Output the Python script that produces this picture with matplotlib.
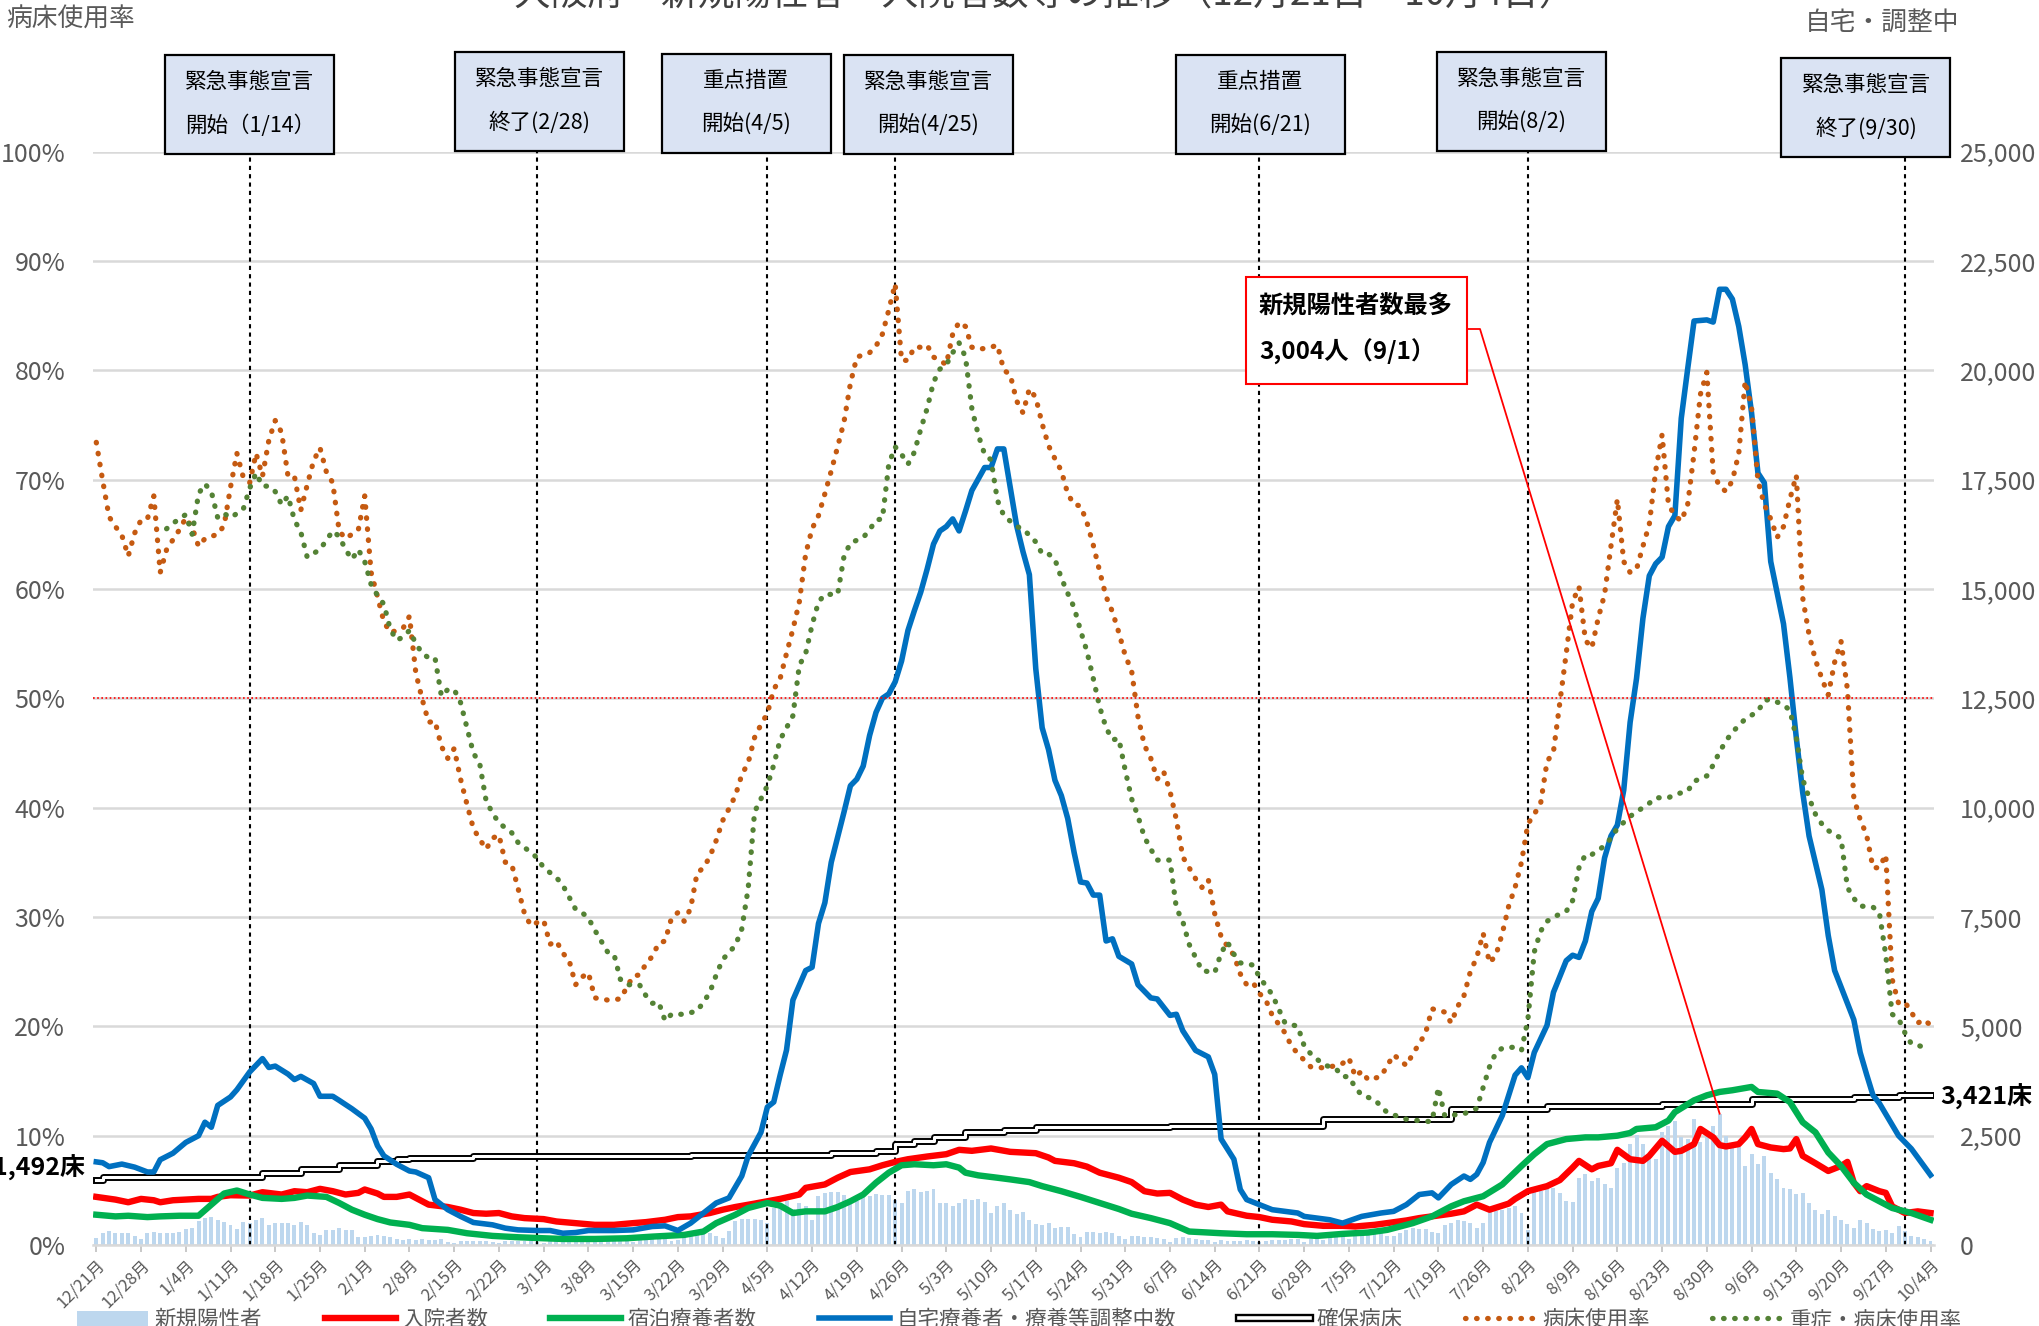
"""Osaka: new cases, inpatients, hotel / home care and bed usage rate (12/21 - 10/4)."""

import matplotlib

matplotlib.use("Agg")
import matplotlib.patheffects as pe
import matplotlib.pyplot as plt
import numpy as np
import pandas as pd
from matplotlib.lines import Line2D
from matplotlib.patches import Patch, Rectangle
from matplotlib.ticker import FuncFormatter

plt.rcParams["font.family"] = ["Noto Sans CJK JP", "DejaVu Sans"]

START_DATE = "2020-12-21"

# daily new positive cases, one bar per day starting 12/21
new_cases = [
    154, 285, 331, 285, 285, 285, 208, 131, 285, 308,
    269, 269, 269, 308, 361, 385, 538, 615, 631, 577,
    515, 461, 361, 515, 500, 577, 615, 461, 500, 500,
    500, 461, 515, 461, 269, 231, 346, 346, 385, 346,
    346, 192, 177, 208, 223, 208, 192, 131, 115, 131,
    115, 131, 115, 115, 131, 77, 54, 100, 92, 100,
    92, 85, 62, 38, 85, 92, 85, 85, 92, 69,
    54, 100, 100, 100, 100, 115, 77, 69, 115, 115,
    131, 115, 131, 100, 77, 115, 131, 154, 154, 131,
    100, 115, 208, 269, 269, 285, 269, 208, 154, 331,
    538, 592, 592, 592, 561, 500, 846, 923, 1000, 823,
    961, 884, 577, 1115, 1192, 1207, 1207, 1154, 1023, 1000,
    1177, 1115, 1177, 1154, 1154, 1023, 961, 1230, 1269, 1207,
    1230, 1269, 961, 961, 884, 961, 1054, 1023, 1054, 977,
    731, 884, 961, 800, 700, 746, 561, 485, 461, 500,
    385, 408, 408, 254, 192, 308, 308, 269, 308, 285,
    208, 131, 208, 208, 192, 192, 154, 131, 77, 154,
    177, 154, 131, 115, 115, 77, 115, 100, 100, 100,
    115, 100, 77, 100, 115, 115, 115, 131, 131, 77,
    131, 131, 115, 154, 192, 177, 131, 208, 208, 231,
    269, 269, 208, 208, 269, 346, 385, 361, 361, 308,
    269, 461, 500, 577, 538, 500, 385, 500, 769, 769,
    807, 846, 884, 731, 346, 1207, 1230, 1269, 1307, 1192,
    1000, 977, 1538, 1615, 1461, 1538, 1384, 1307, 1769, 1884,
    2307, 2515, 2307, 2053, 1961, 2576, 2730, 2845, 2461, 2422,
    2884, 2345, 2500, 2730, 3004, 2500, 2307, 2230, 1807, 2076,
    1846, 2038, 1653, 1500, 1307, 1269, 1177, 1192, 961, 807,
    715, 807, 654, 577, 485, 385, 577, 500, 361, 331,
    346, 285, 423, 331, 208, 177, 131, 100,
]

# (day offset from 12/21, value) pairs
inpatients = [
    (0, 1100), (3, 1038), (5, 977), (7, 1054), (9, 1023), (10, 977), (12, 1023), (14, 1038),
    (16, 1054), (18, 1054), (19, 1100), (21, 1138), (24, 1130), (26, 1207), (29, 1154),
    (31, 1230), (33, 1207), (35, 1284), (37, 1230), (39, 1154), (41, 1192), (42, 1269),
    (44, 1177), (45, 1100), (47, 1100), (49, 1154), (51, 1000), (52, 923), (55, 869),
    (57, 807), (59, 731), (61, 715), (63, 731), (65, 654), (67, 615), (70, 592), (72, 538),
    (75, 500), (78, 461), (81, 461), (84, 500), (86, 523), (89, 577), (91, 638), (93, 654),
    (96, 731), (98, 807), (100, 869), (103, 946), (105, 1000), (107, 1054), (110, 1154),
    (111, 1307), (114, 1384), (116, 1538), (118, 1669), (121, 1730), (123, 1823), (125, 1900),
    (127, 1961), (130, 2023), (133, 2076), (135, 2176), (137, 2153), (140, 2207), (143, 2130),
    (147, 2099), (149, 2000), (150, 1923), (153, 1869), (155, 1792), (157, 1653), (160, 1538),
    (162, 1438), (164, 1230), (166, 1177), (168, 1192), (170, 1038), (172, 923), (174, 869),
    (176, 923), (177, 769), (180, 669), (182, 638), (184, 577), (187, 538), (189, 477),
    (192, 438), (195, 438), (197, 423), (200, 461), (202, 500), (205, 561), (207, 615),
    (209, 654), (212, 715), (214, 769), (216, 923), (218, 807), (221, 946), (222, 1054),
    (224, 1230), (227, 1346), (229, 1484), (231, 1769), (232, 1923), (234, 1730), (235, 1807),
    (237, 1869), (238, 2176), (240, 1961), (242, 1923), (243, 2038), (245, 2384), (247, 2130),
    (248, 2153), (250, 2307), (251, 2653), (253, 2461), (254, 2284), (255, 2253), (257, 2307),
    (258, 2461), (259, 2653), (260, 2307), (262, 2230), (264, 2192), (265, 2207), (266, 2422),
    (267, 2038), (269, 1869), (271, 1692), (273, 1807), (274, 1900), (275, 1423), (276, 1230),
    (277, 1346), (279, 1230), (280, 1192), (281, 884), (283, 731), (285, 769), (287, 731),
]

hotel_care = [
    (0, 692), (3, 654), (5, 669), (8, 638), (10, 654), (13, 669), (16, 669), (18, 923),
    (20, 1177), (22, 1246), (24, 1154), (26, 1077), (29, 1054), (31, 1077), (33, 1130),
    (36, 1100), (38, 961), (40, 807), (42, 692), (44, 592), (46, 515), (49, 461), (51, 385),
    (55, 346), (58, 269), (62, 208), (66, 177), (70, 154), (73, 138), (78, 138), (83, 154),
    (87, 192), (92, 231), (95, 308), (97, 500), (100, 692), (102, 846), (105, 961), (107, 900),
    (109, 731), (111, 769), (114, 769), (116, 869), (118, 1000), (120, 1154), (122, 1423),
    (124, 1653), (126, 1823), (128, 1846), (131, 1823), (133, 1846), (135, 1769), (136, 1653),
    (138, 1592), (141, 1538), (143, 1500), (146, 1438), (148, 1346), (151, 1230), (154, 1100),
    (157, 961), (160, 823), (162, 715), (165, 615), (168, 500), (171, 308), (174, 285),
    (176, 269), (180, 246), (184, 246), (188, 231), (191, 208), (195, 254), (199, 285),
    (202, 346), (206, 500), (209, 654), (212, 884), (214, 1000), (217, 1115), (220, 1384),
    (223, 1807), (225, 2076), (227, 2307), (230, 2422), (233, 2461), (235, 2461), (238, 2499),
    (240, 2561), (241, 2653), (244, 2692), (246, 2845), (247, 3038), (250, 3307), (252, 3422),
    (254, 3499), (256, 3538), (259, 3614), (260, 3499), (263, 3461), (265, 3268), (267, 2807),
    (269, 2576), (271, 2115), (273, 1807), (275, 1423), (277, 1154), (279, 1000), (281, 846),
    (284, 731), (287, 577),
]

home_care = [
    (0, 1900), (1, 1880), (2, 1792), (4, 1850), (6, 1780), (8, 1669), (9, 1669), (10, 1950),
    (12, 2099), (14, 2345), (16, 2499), (17, 2807), (18, 2692), (19, 3191), (21, 3384),
    (22, 3549), (24, 3956), (26, 4262), (27, 4058), (28, 4090), (30, 3908), (31, 3782),
    (32, 3855), (34, 3692), (35, 3400), (37, 3400), (38, 3307), (40, 3114), (42, 2899),
    (43, 2653), (44, 2269), (45, 2038), (47, 1846), (49, 1692), (50, 1669), (52, 1538),
    (53, 1038), (55, 807), (57, 654), (59, 515), (62, 461), (64, 385), (66, 346), (69, 331),
    (71, 331), (73, 269), (75, 285), (77, 331), (81, 331), (84, 346), (87, 423), (89, 438),
    (91, 331), (93, 500), (95, 731), (97, 961), (99, 1077), (101, 1577), (102, 2038),
    (104, 2576), (105, 3153), (106, 3268), (107, 3883), (108, 4456), (109, 5600), (111, 6275),
    (112, 6350), (113, 7350), (114, 7825), (115, 8750), (116, 9325), (117, 9900), (118, 10500),
    (119, 10650), (120, 10950), (121, 11650), (122, 12175), (123, 12500), (124, 12600),
    (125, 12875), (126, 13350), (127, 14050), (128, 14500), (129, 14925), (130, 15450),
    (131, 16025), (132, 16325), (133, 16425), (134, 16600), (135, 16325), (136, 16775),
    (137, 17250), (139, 17775), (140, 17775), (141, 18200), (142, 18200), (143, 17325),
    (144, 16450), (145, 15850), (146, 15325), (147, 13175), (148, 11825), (149, 11325),
    (150, 10625), (151, 10275), (152, 9750), (153, 8975), (154, 8300), (155, 8275),
    (156, 8000), (157, 8000), (158, 6950), (159, 7000), (160, 6600), (162, 6425), (163, 5950),
    (165, 5650), (166, 5625), (168, 5250), (169, 5275), (170, 4900), (172, 4450), (174, 4300),
    (175, 3900), (176, 2422), (178, 1961), (179, 1269), (180, 1038), (182, 923), (184, 807),
    (186, 769), (188, 731), (189, 654), (191, 615), (193, 577), (195, 500), (198, 654),
    (201, 731), (203, 769), (205, 923), (207, 1154), (209, 1192), (210, 1077), (212, 1384),
    (214, 1577), (215, 1500), (216, 1615), (217, 1884), (218, 2345), (220, 2961), (221, 3422),
    (222, 3883), (223, 4050), (224, 3825), (225, 4400), (227, 5025), (228, 5775), (230, 6500),
    (231, 6625), (232, 6575), (233, 6950), (234, 7625), (235, 7925), (236, 8850), (237, 9350),
    (238, 9600), (239, 10400), (240, 11950), (241, 12950), (242, 14325), (243, 15300),
    (244, 15575), (245, 15725), (246, 16425), (247, 16675), (248, 18900), (249, 20025),
    (250, 21125), (252, 21150), (253, 21100), (254, 21850), (255, 21850), (256, 21625),
    (257, 21000), (258, 20125), (259, 19025), (260, 17650), (261, 17425), (262, 15625),
    (264, 14200), (265, 12975), (266, 11600), (267, 10350), (268, 9350), (270, 8125),
    (271, 7075), (272, 6275), (275, 5150), (276, 4400), (277, 3900), (278, 3425), (279, 3240),
    (282, 2500), (284, 2200), (287, 1600),
]

bed_usage_rate = [
    (0, 73.4), (1, 69.9), (2, 66.6), (3, 65.7), (4, 64.9), (5, 63.0), (6, 65.1), (7, 66.3),
    (8, 66.4), (9, 68.5), (10, 61.5), (11, 63.6), (13, 65.4), (14, 66.5), (15, 65.6),
    (16, 63.9), (17, 64.6), (19, 65.0), (20, 65.8), (21, 69.3), (22, 72.4), (23, 70.2),
    (24, 69.7), (25, 72.4), (26, 70.3), (27, 73.6), (28, 75.4), (29, 74.3), (30, 70.3),
    (31, 70.3), (32, 67.2), (33, 69.5), (34, 71.7), (35, 72.9), (36, 70.7), (37, 69.7),
    (38, 65.3), (39, 64.6), (41, 65.4), (42, 68.5), (43, 61.5), (44, 59.3), (45, 57.0),
    (46, 56.0), (48, 56.4), (49, 57.5), (50, 52.3), (51, 49.9), (52, 47.8), (53, 47.9),
    (54, 45.6), (55, 44.5), (56, 45.4), (57, 42.6), (58, 40.3), (59, 38.1), (60, 37.1),
    (61, 36.2), (62, 37.2), (63, 37.5), (64, 35.0), (65, 34.8), (66, 32.6), (67, 30.3),
    (68, 29.2), (69, 29.5), (70, 29.7), (71, 27.5), (72, 27.8), (73, 26.7), (74, 26.0),
    (75, 23.8), (76, 24.5), (77, 24.9), (78, 22.6), (80, 22.4), (82, 22.5), (84, 24.6),
    (85, 24.7), (86, 25.7), (87, 26.4), (88, 27.6), (89, 27.8), (90, 29.9), (91, 30.4),
    (92, 29.6), (93, 30.8), (94, 34.0), (95, 34.5), (96, 35.5), (97, 37.0), (98, 38.8),
    (99, 39.9), (100, 41.1), (101, 43.0), (102, 44.1), (103, 46.4), (104, 47.6), (105, 48.6),
    (106, 50.8), (107, 51.8), (108, 54.1), (109, 56.3), (110, 58.8), (111, 63.2), (112, 65.5),
    (113, 66.7), (114, 68.7), (115, 70.8), (116, 73.0), (117, 75.3), (118, 78.8), (119, 81.2),
    (120, 81.4), (121, 81.6), (122, 82.2), (123, 83.3), (124, 85.5), (125, 87.9), (126, 80.9),
    (127, 80.9), (128, 82.1), (129, 82.1), (130, 82.3), (131, 81.2), (132, 80.9), (133, 80.5),
    (134, 83.3), (135, 84.4), (136, 84.0), (137, 82.1), (138, 81.9), (139, 82.0), (140, 82.1),
    (141, 82.3), (142, 80.0), (143, 79.6), (144, 77.2), (145, 76.1), (146, 78.3), (147, 77.5),
    (148, 75.1), (149, 73.1), (150, 71.9), (151, 70.8), (152, 68.7), (153, 67.7), (154, 67.6),
    (155, 66.1), (156, 64.0), (157, 61.6), (158, 59.3), (159, 57.9), (160, 56.0), (161, 53.9),
    (162, 52.5), (163, 48.3), (164, 45.7), (165, 44.5), (166, 42.6), (167, 43.3), (168, 41.5),
    (169, 38.9), (170, 35.5), (171, 34.5), (172, 33.5), (173, 32.7), (174, 33.4), (175, 30.3),
    (176, 28.2), (177, 27.3), (178, 26.5), (179, 24.8), (180, 23.8), (181, 24.0), (182, 23.0),
    (183, 22.4), (184, 21.0), (185, 20.2), (186, 19.4), (187, 18.2), (188, 17.5), (190, 16.3),
    (192, 16.2), (194, 16.4), (195, 16.6), (196, 17.1), (197, 15.4), (198, 15.9), (199, 15.1),
    (201, 15.4), (202, 16.4), (203, 17.4), (204, 16.9), (205, 16.4), (206, 17.5), (207, 18.4),
    (208, 19.4), (209, 21.6), (211, 21.3), (212, 20.3), (213, 21.8), (214, 22.8), (215, 25.0),
    (216, 26.3), (217, 28.5), (218, 25.8), (219, 26.5), (220, 28.5), (221, 31.0), (222, 32.7),
    (223, 35.0), (224, 38.5), (225, 39.4), (226, 40.4), (227, 44.2), (228, 45.1), (229, 49.6),
    (230, 54.1), (231, 58.8), (232, 60.2), (233, 55.3), (234, 54.6), (235, 57.3), (236, 59.5),
    (237, 63.9), (238, 68.2), (239, 62.5), (240, 61.5), (241, 61.8), (242, 63.9), (243, 65.9),
    (244, 70.8), (245, 74.1), (246, 67.7), (247, 66.7), (248, 66.2), (249, 67.7), (250, 72.4),
    (251, 77.8), (252, 79.8), (253, 70.6), (254, 69.4), (255, 68.9), (256, 69.9), (257, 72.4),
    (258, 79.0), (259, 76.6), (260, 69.9), (261, 67.7), (262, 66.4), (263, 64.7), (264, 65.7),
    (265, 68.2), (266, 70.4), (267, 59.2), (268, 55.8), (269, 53.5), (270, 51.8), (271, 50.3),
    (272, 53.3), (273, 55.2), (274, 50.8), (275, 40.9), (276, 38.9), (277, 37.5), (278, 34.5),
    (279, 34.5), (280, 35.7), (281, 24.3), (282, 22.1), (283, 22.2), (284, 21.3), (285, 20.3),
    (286, 20.6), (287, 20.1),
]

severe_bed_usage_rate = [
    (11, 65.5), (12, 66.0), (14, 66.8), (15, 65.0), (16, 68.7), (17, 69.6), (18, 68.9),
    (19, 66.5), (20, 66.9), (21, 66.5), (23, 67.3), (24, 69.2), (25, 70.6), (26, 69.4),
    (27, 69.4), (28, 68.9), (29, 67.7), (30, 68.5), (31, 66.3), (32, 65.2), (33, 62.9),
    (35, 63.6), (37, 65.3), (38, 64.8), (39, 63.6), (40, 62.7), (41, 63.6), (42, 62.5),
    (43, 60.4), (44, 59.4), (45, 58.6), (46, 56.3), (47, 55.3), (48, 55.6), (49, 56.2),
    (50, 55.0), (51, 54.1), (52, 53.7), (53, 53.7), (54, 50.2), (55, 50.8), (56, 50.8),
    (57, 49.6), (58, 47.3), (59, 45.0), (60, 44.0), (61, 40.6), (62, 39.5), (63, 38.6),
    (65, 37.7), (66, 36.8), (68, 35.9), (69, 35.4), (70, 34.5), (72, 33.6), (73, 32.9),
    (74, 31.8), (75, 30.7), (76, 30.4), (77, 29.9), (78, 28.8), (79, 27.8), (80, 26.8),
    (81, 26.6), (82, 24.3), (83, 23.8), (85, 23.8), (86, 22.8), (87, 22.1), (88, 22.2),
    (89, 20.5), (90, 21.1), (92, 21.1), (94, 21.4), (95, 22.2), (96, 23.1), (97, 24.7),
    (98, 26.1), (100, 27.4), (101, 28.9), (102, 32.6), (103, 39.6), (104, 40.8), (105, 42.0),
    (106, 43.9), (107, 46.2), (108, 47.3), (109, 48.4), (110, 53.0), (111, 54.1), (112, 56.7),
    (113, 58.8), (114, 59.5), (116, 59.5), (117, 63.0), (118, 64.2), (120, 64.7), (121, 65.4),
    (122, 66.3), (123, 66.4), (124, 71.4), (125, 73.0), (126, 72.3), (127, 71.4), (128, 72.5),
    (129, 74.6), (130, 76.5), (131, 78.9), (132, 80.1), (133, 80.5), (134, 81.6), (135, 82.5),
    (136, 81.2), (137, 76.5), (138, 74.1), (139, 72.3), (140, 71.8), (141, 68.1), (142, 66.7),
    (144, 65.7), (145, 65.5), (147, 64.3), (148, 63.2), (149, 63.2), (150, 62.7), (151, 61.0),
    (152, 59.6), (153, 58.3), (154, 56.2), (155, 54.3), (156, 51.8), (157, 49.2), (158, 47.3),
    (159, 46.2), (160, 46.3), (161, 43.4), (162, 40.8), (163, 39.2), (164, 37.3), (165, 36.2),
    (166, 35.2), (168, 35.2), (169, 30.8), (170, 29.6), (171, 27.5), (172, 26.3), (173, 25.1),
    (175, 24.9), (176, 26.7), (177, 27.7), (178, 26.6), (179, 25.8), (181, 25.6), (182, 24.5),
    (184, 22.9), (186, 20.3), (188, 20.0), (189, 18.2), (190, 17.5), (192, 16.5), (194, 16.1),
    (195, 15.4), (196, 15.4), (197, 14.4), (198, 13.7), (200, 13.3), (202, 12.1), (205, 11.5),
    (208, 11.3), (209, 11.3), (210, 14.4), (211, 11.8), (214, 12.0), (216, 12.5), (217, 14.4),
    (218, 16.3), (219, 17.6), (220, 18.0), (222, 18.1), (223, 17.8), (224, 20.6), (225, 26.8),
    (226, 28.7), (227, 29.6), (228, 30.0), (230, 30.5), (231, 31.5), (232, 34.5), (233, 35.7),
    (234, 35.7), (236, 36.5), (237, 37.2), (238, 38.1), (240, 39.2), (241, 39.6), (243, 40.4),
    (244, 40.9), (246, 40.9), (247, 41.2), (249, 41.5), (250, 42.4), (252, 42.9), (253, 43.9),
    (254, 45.1), (255, 46.1), (256, 46.9), (257, 47.5), (258, 48.1), (260, 48.8), (261, 49.8),
    (262, 49.9), (264, 49.4), (265, 48.9), (266, 46.4), (267, 42.6), (268, 40.9), (269, 39.4),
    (270, 38.5), (271, 37.9), (273, 37.2), (274, 32.7), (275, 31.7), (276, 31.0), (278, 30.9),
    (279, 30.4), (280, 26.5), (281, 21.1), (282, 20.7), (283, 19.4), (284, 18.4), (286, 18.1),
    (287, 18.1),
]

# secured beds only change on a few days; value holds until the next change
bed_change_days = [0, 1, 26, 32, 38, 44, 47, 49, 59, 93, 115, 122, 125, 128, 131, 136,
                   142, 147, 168, 192, 212, 227, 245, 259, 275, 282, 287]
secured_beds = [1492, 1560, 1640, 1730, 1830, 1920, 1975, 2000, 2025, 2050, 2100, 2150,
                2300, 2385, 2460, 2575, 2640, 2690, 2730, 2880, 3110, 3175, 3230, 3330,
                3380, 3421, 3421]

event_days = [24, 69, 105, 125, 182, 224, 283]
event_titles = ["緊急事態宣言", "緊急事態宣言", "重点措置", "緊急事態宣言",
                "重点措置", "緊急事態宣言", "緊急事態宣言"]
event_labels = ["開始（1/14）", "終了(2/28)", "開始(4/5)", "開始(4/25)",
                "開始(6/21)", "開始(8/2)", "終了(9/30)"]
event_box_days = [24.0, 69.4, 101.7, 130.2, 182.1, 223.0, 276.9]
event_box_top_px = [104, 101, 103, 104, 104, 101, 107]

PEAK_DAY = 254
PEAK_CASES = 3004

LEGEND_LABELS = ["新規陽性者", "入院者数", "宿泊療養者数", "自宅療養者・療養等調整中数",
                 "確保病床", "病床使用率", "重症・病床使用率"]

W, H = 2039, 1326
GRAY = "#595959"
BAR_BLUE = "#bdd7ee"
RED = "#ff0000"
GREEN = "#00b050"
BLUE = "#0070c0"
BROWN = "#c55a11"
OLIVE = "#548235"
DOTS = (0, (0.1, 2.0))
DOUBLE = [pe.Stroke(linewidth=5.0, foreground="black"), pe.Normal()]


def unzip(pairs):
    days, values = zip(*pairs)
    return np.array(days), np.array(values)


fig = plt.figure(figsize=(W / 100, H / 100), dpi=100)
ax = fig.add_axes([93.1 / W, 81 / H, 1840.6 / W, 1093.5 / H])
ax_cnt = ax.twinx()
ax.set_zorder(ax_cnt.get_zorder() + 1)
ax.patch.set_visible(False)

# counts (right axis)
days = np.arange(len(new_cases))
ax_cnt.bar(days, new_cases, width=0.62, color=BAR_BLUE, zorder=2)
for d in event_days:
    ax_cnt.axvline(d, color="black", lw=1.5, ls=(0, (2, 2)), zorder=2.5)

ax_cnt.step(bed_change_days, secured_beds, where="post", color="white", lw=2.2,
            path_effects=DOUBLE, zorder=3)
x, y = unzip(inpatients)
ax_cnt.plot(x, y, color=RED, lw=4.6, zorder=4, solid_joinstyle="round")
x, y = unzip(hotel_care)
ax_cnt.plot(x, y, color=GREEN, lw=4.6, zorder=5, solid_joinstyle="round")
x, y = unzip(home_care)
ax_cnt.plot(x, y, color=BLUE, lw=4.0, zorder=6, solid_joinstyle="round")

# rates (left axis)
x, y = unzip(bed_usage_rate)
ax.plot(x, y, color=BROWN, lw=3.8, ls=DOTS, dash_capstyle="round")
x, y = unzip(severe_bed_usage_rate)
ax.plot(x, y, color=OLIVE, lw=3.8, ls=DOTS, dash_capstyle="round")
ax.axhline(50, color=RED, lw=1.2, ls=(0, (1, 1.5)))

ax.set_xlim(-0.5, len(new_cases) - 0.5)
ax.set_ylim(0, 100)
ax_cnt.set_ylim(0, 25000)

ax.set_yticks(np.arange(0, 101, 10))
ax_cnt.set_yticks(np.arange(0, 25001, 2500))
ax.yaxis.set_major_formatter(FuncFormatter(lambda v, _: f"{v:.0f}%"))
ax_cnt.yaxis.set_major_formatter(FuncFormatter(lambda v, _: f"{v:,.0f}"))
ax_cnt.grid(axis="y", color="#d9d9d9", lw=1.8)
ax_cnt.set_axisbelow(True)

tick_days = np.arange(0, len(new_cases), 7)
tick_dates = pd.date_range(START_DATE, periods=len(tick_days), freq="7D")
ax.set_xticks(tick_days)
ax.set_xticklabels([f"{d.month}/{d.day}月" for d in tick_dates])
plt.setp(ax.get_xticklabels(), rotation=45, ha="right", rotation_mode="anchor")

ax.tick_params(axis="y", length=0, pad=20, labelsize=18, labelcolor=GRAY)
ax_cnt.tick_params(axis="y", length=0, pad=19, labelsize=18, labelcolor=GRAY)
ax.tick_params(axis="x", length=5, width=1.2, color="#bfbfbf", labelsize=12,
               labelcolor=GRAY, pad=3)

for a in (ax, ax_cnt):
    for spine in a.spines.values():
        spine.set_visible(False)
ax.spines["bottom"].set_visible(True)
ax.spines["bottom"].set_color("#d9d9d9")
ax.spines["bottom"].set_linewidth(1.8)

# event boxes above the plot
to_fig = fig.transFigure.inverted()
box_w, box_h = 169, 99
for day, title, label, top_px in zip(event_box_days, event_titles, event_labels,
                                     event_box_top_px):
    cx = to_fig.transform(ax.transData.transform((day, 0)))[0]
    cy = 1 - top_px / H
    fig.add_artist(Rectangle((cx - box_w / 2 / W, cy - box_h / 2 / H), box_w / W, box_h / H,
                             transform=fig.transFigure, facecolor="#dae3f3",
                             edgecolor="black", lw=1.6, zorder=10))
    fig.text(cx, cy + 22 / H, title, ha="center", va="center", fontsize=15.5, zorder=11)
    fig.text(cx, cy - 22 / H, label, ha="center", va="center", fontsize=15.5, zorder=11)

# peak annotation
fig.add_artist(Rectangle((1246 / W, 1 - 384 / H), 221 / W, 107 / H,
                         transform=fig.transFigure, facecolor="white",
                         edgecolor=RED, lw=1.5, zorder=10))
fig.text(1259 / W, 1 - 306 / H, "新規陽性者数最多", fontsize=17.5, fontweight="bold",
         va="center", zorder=11)
fig.text(1259 / W, 1 - 352 / H, f"{PEAK_CASES:,}人（9/1）", fontsize=17.5,
         fontweight="bold", va="center", zorder=11)
peak_x, peak_y = to_fig.transform(ax_cnt.transData.transform((PEAK_DAY, PEAK_CASES)))
fig.add_artist(Line2D([1467 / W, 1480 / W, peak_x], [1 - 329 / H, 1 - 329 / H, peak_y],
                      transform=fig.transFigure, color=RED, lw=1.3, zorder=9))

# side labels
fig.text(0.5125, 1 - 5.6 / H, "大阪府　新規陽性者・入院者数等の推移（12月21日～10月4日）",
         ha="center", va="baseline", fontsize=26.5, color="#404040")
fig.text(6 / W, 1 - 20 / H, "病床使用率", va="center", fontsize=18.5, color=GRAY)
fig.text(1805 / W, 1 - 23 / H, "自宅・調整中", va="center", fontsize=18.5, color=GRAY)
fig.text(85 / W, 1 - 1168 / H, f"{secured_beds[0]:,}床", ha="right", va="center",
         fontsize=18, fontweight="bold")
fig.text(1940 / W, 1 - 1097 / H, f"{secured_beds[-1]:,}床", ha="left", va="center",
         fontsize=18, fontweight="bold")

handles = [
    Patch(facecolor=BAR_BLUE),
    Line2D([], [], color=RED, lw=4.6),
    Line2D([], [], color=GREEN, lw=4.6),
    Line2D([], [], color=BLUE, lw=4.0),
    Line2D([], [], color="white", lw=2.6,
           path_effects=[pe.Stroke(linewidth=6.0, foreground="black"), pe.Normal()]),
    Line2D([], [], color=BROWN, lw=3.8, ls=DOTS, dash_capstyle="round"),
    Line2D([], [], color=OLIVE, lw=3.8, ls=DOTS, dash_capstyle="round"),
]
fig.legend(handles, LEGEND_LABELS, loc="center", bbox_to_anchor=(0.5, 1 - 1320 / H),
           ncol=7, frameon=False, fontsize=15.5, handlelength=3.3, handletextpad=0.3,
           columnspacing=2.9, labelcolor=GRAY)

fig.savefig("out.png", dpi=100)
